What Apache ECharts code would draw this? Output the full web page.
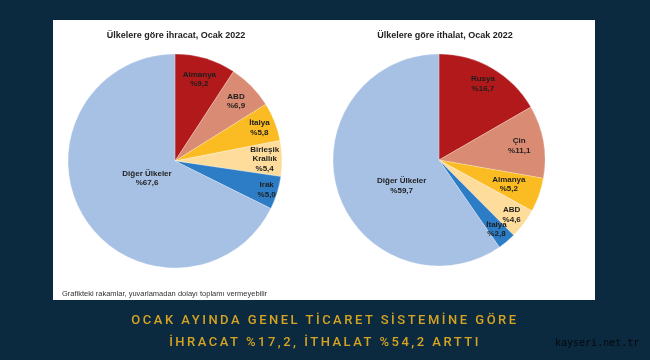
<!DOCTYPE html>
<html><head><meta charset="utf-8">
<script src="https://cdn.jsdelivr.net/npm/echarts@6/dist/echarts.min.js"></script>
<style>
html,body{margin:0;padding:0;background:#0b2a40;}
#wrap{position:relative;width:650px;height:360px;}
#c{width:650px;height:360px;}
.cap{position:absolute;left:0;width:650px;text-align:center;font-family:Roboto,sans-serif;font-size:13px;font-weight:500;letter-spacing:2.5px;color:#d6a421;white-space:nowrap;}
</style></head>
<body><div id="wrap"><div id="c"></div>
<div class="cap" style="top:312px">OCAK AYINDA GENEL TİCARET SİSTEMİNE GÖRE</div>
<div class="cap" style="top:334px">İHRACAT %17,2, İTHALAT %54,2 ARTTI</div>
</div>
<script>
const exportTitle = 'Ülkelere göre ihracat, Ocak 2022';
const importTitle = 'Ülkelere göre ithalat, Ocak 2022';
const exportNames = ['Almanya', 'ABD', 'İtalya', 'Birleşik\nKrallık', 'Irak', 'Diğer Ülkeler'];
const exportValues = [9.2, 6.9, 5.8, 5.4, 5.0, 67.6];
const importNames = ['Rusya', 'Çin', 'Almanya', 'ABD', 'İtalya', 'Diğer Ülkeler'];
const importValues = [16.7, 11.1, 5.2, 4.6, 2.8, 59.7];
const footnote = 'Grafikteki rakamlar, yuvarlamadan dolayı toplamı vermeyebilir';
const watermark = 'kayseri.net.tr';

// styling: slice colours and label radius (fraction of pie radius)
const colors = ['#b2191b', '#d98b73', '#fbbb22', '#fddc9c', '#2d7dc6', '#a7c1e5'];
const exportLabelK = [0.77, 0.77, 0.82, 0.81, 0.87, 0.28];
const importLabelK = [0.80, 0.74, 0.67, 0.83, 0.82, 0.38];
const importLabelOffset = [[0,0],[0,0],[0,0],[0,0],[0,0],[4,13]];

const fmt = v => '%' + v.toFixed(1).replace('.', ',');
const labelStyle = {color:'#1e1e1e', fontSize:8, fontWeight:'bold', fontFamily:'Liberation Sans, Arial', lineHeight:9.5, align:'center'};

function pieSeries(names, values, center, r, ks, offsets) {
  const data = names.map((n, i) => ({name:n, value:values[i], itemStyle:{color:colors[i]}}));
  const base = {type:'pie', center:center, startAngle:90, clockwise:true, animation:false, silent:true,
    labelLine:{show:false}, minShowLabelAngle:0, avoidLabelOverlap:false, labelLayout:{hideOverlap:false}};
  const tdata = data.map(d => ({name:d.name, value:d.value, itemStyle:{color:'transparent'}}));
  const out = [Object.assign({}, base, {radius:[0, r], label:{show:false}, data:data,
      itemStyle:{borderColor:'rgba(255,255,255,0.5)', borderWidth:0.5}})];
  ks.forEach((k, idx) => {
    out.push(Object.assign({}, base, {radius:[0, r*k*2], z:3, itemStyle:{color:'transparent'},
      label:Object.assign({show:true, position:'inside', offset:offsets ? offsets[idx] : [0,0],
        formatter:p => p.dataIndex === idx ? p.name + '\n' + fmt(p.value) : ''}, labelStyle),
      data:tdata}));
  });
  return out;
}

const chart = echarts.init(document.getElementById('c'), null, {renderer:'canvas'});
chart.setOption({
  backgroundColor:'#0b2a40',
  title:[
    {text:exportTitle, left:171, top:26, textAlign:'center', textStyle:{fontSize:9, fontWeight:'bold', color:'#222', fontFamily:'Liberation Sans, Arial'}},
    {text:importTitle, left:440, top:26, textAlign:'center', textStyle:{fontSize:9, fontWeight:'bold', color:'#222', fontFamily:'Liberation Sans, Arial'}}
  ],
  graphic:[
    {type:'rect', z:-10, shape:{x:53, y:20, width:542, height:280}, style:{fill:'#ffffff'}},
    {type:'text', left:62, top:290, style:{text:footnote, fill:'#333', fontSize:7.5, fontFamily:'Liberation Sans, Arial'}},
    {type:'text', left:555, top:338, style:{text:watermark, fill:'#05080b', fontSize:10, fontFamily:'DejaVu Sans Mono'}}
  ],
  series:[].concat(
    pieSeries(exportNames, exportValues, [175, 161], 107, exportLabelK, null),
    pieSeries(importNames, importValues, [439, 160], 106, importLabelK, importLabelOffset)
  )
});
</script></body></html>
